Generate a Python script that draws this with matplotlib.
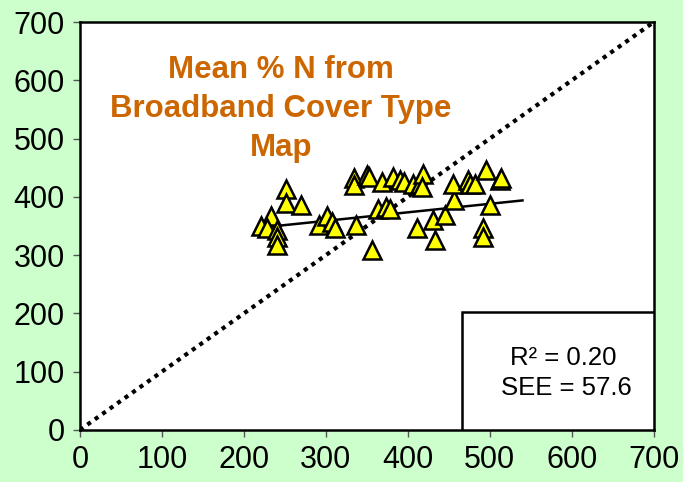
import numpy as np
import matplotlib.pyplot as plt
from matplotlib.patches import Rectangle

plt.rcParams['font.family'] = ['Liberation Sans', 'DejaVu Sans']

# ── Data: plot-level N estimates vs broadband cover-type map mean ──
map_n = [252, 252, 270, 233, 221, 228, 241, 241, 241,
         292, 301, 307, 311, 337, 356,
         335, 335, 350, 353, 368, 382, 390, 396, 406, 415, 419, 417,
         364, 374, 378, 411, 431, 445, 433, 457,
         455, 474, 476, 482, 496, 512, 514, 500, 492, 492]
obs_n = [413, 389, 386, 368, 350, 346, 343, 331, 317,
         352, 368, 357, 346, 352, 309,
         432, 420, 438, 434, 426, 435, 429, 426, 423, 423, 440, 417,
         380, 383, 380, 347, 360, 369, 326, 395,
         423, 429, 423, 423, 446, 429, 432, 386, 346, 332]

# least-squares line as drawn on the chart
fit_x = [225, 540]
fit_y = [348, 394]
one_to_one = [0, 700]

r2 = 0.20
see = 57.6
ticks = [0, 100, 200, 300, 400, 500, 600, 700]

# ── Plot ──────────────────────────────────────────
bg = '#ccffcc'
fig = plt.figure(figsize=(6.83, 4.82), dpi=100, facecolor=bg)
ax = fig.add_axes([0.117, 0.108, 0.840, 0.846])
ax.set_facecolor('white')

ax.plot(one_to_one, one_to_one, color='black', lw=3,
        linestyle=(0, (1, 1.2)), zorder=2)
ax.plot(fit_x, fit_y, color='black', lw=1.8, zorder=3)
ax.plot(map_n, obs_n, linestyle='none', marker='^', ms=12.5,
        mfc='#ffff00', mec='black', mew=1.8, zorder=4)

# stats box in the lower right corner
ax.add_patch(Rectangle((466, 0), 234, 202, facecolor='white',
                       edgecolor='black', lw=1.8, zorder=5))
ax.text(590, 123, f'R\u00b2 = {r2:.2f}', ha='center', va='center',
        fontsize=18.5, zorder=6)
ax.text(593, 72, f'SEE = {see}', ha='center', va='center',
        fontsize=18.5, zorder=6)

ax.text(245, 643, 'Mean % N from\nBroadband Cover Type\nMap', ha='center',
        va='top', fontsize=22.5, fontweight='bold', color='#cc6600',
        linespacing=1.38)

ax.set_xlim(0, 700)
ax.set_ylim(0, 700)
ax.set_xticks(ticks)
ax.set_yticks(ticks)
ax.tick_params(direction='out', length=5, width=1, color='#555555',
               labelsize=22, pad=6)
for s in ax.spines.values():
    s.set_linewidth(1.8)
    s.set_color('black')

fig.savefig('out.png', dpi=100, facecolor=bg)
